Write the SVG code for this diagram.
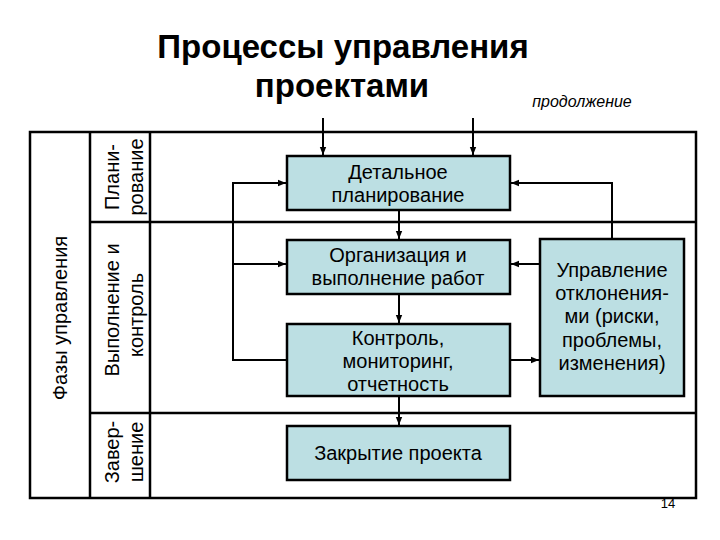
<svg xmlns="http://www.w3.org/2000/svg" width="720" height="540" viewBox="0 0 720 540">
<defs>
<style>
.t{font-family:"Liberation Sans",Arial,sans-serif;fill:#000}
.title{font-size:33px;font-weight:bold;text-anchor:middle}
.box{fill:#bcdfe3;stroke:#000;stroke-width:2.5}
.bt{font-size:20px;text-anchor:middle}
.lab{font-size:20px;text-anchor:middle}
.frame{fill:none;stroke:#000;stroke-width:2.5}
.c{fill:none;stroke:#000;stroke-width:2}
</style>
<marker id="ah" viewBox="0 0 10 10" refX="10" refY="5" markerWidth="4" markerHeight="4" orient="auto" markerUnits="strokeWidth">
<path d="M0,1 L10,5 L0,9 z" fill="#000"/>
</marker>
</defs>
<rect width="720" height="540" fill="#fff"/>
<g id="title">
<text class="t title" x="343" y="58">Процессы управления</text>
<text class="t title" x="342" y="97">проектами</text>
<text class="t" x="582" y="107" font-size="16" font-style="italic" text-anchor="middle">продолжение</text>
</g>
<g id="frame">
<rect class="frame" x="30" y="132" width="666" height="366"/>
<line class="frame" x1="90" y1="132" x2="90" y2="498"/>
<line class="frame" x1="150" y1="132" x2="150" y2="498"/>
<line class="frame" x1="90" y1="222" x2="696" y2="222"/>
<line class="frame" x1="90" y1="413" x2="696" y2="413"/>
</g>
<g id="phase-labels">
<text class="t lab" transform="translate(67,318) rotate(-90)">Фазы управления</text>
<text class="t lab" transform="translate(119,177) rotate(-90)">Плани-</text>
<text class="t lab" transform="translate(143,177) rotate(-90)">рование</text>
<text class="t lab" transform="translate(119,310) rotate(-90)">Выполнение и</text>
<text class="t lab" transform="translate(143,315) rotate(-90)">контроль</text>
<text class="t lab" transform="translate(119,452) rotate(-90)">Завер-</text>
<text class="t lab" transform="translate(143,452) rotate(-90)">шение</text>
</g>
<g id="connectors">
<line class="c" x1="323" y1="118" x2="323" y2="155" marker-end="url(#ah)"/>
<line class="c" x1="473" y1="118" x2="473" y2="155" marker-end="url(#ah)"/>
<line class="c" x1="399" y1="211" x2="399" y2="239" marker-end="url(#ah)"/>
<line class="c" x1="399" y1="295" x2="399" y2="323" marker-end="url(#ah)"/>
<line class="c" x1="399" y1="397" x2="399" y2="425" marker-end="url(#ah)"/>
<polyline class="c" points="286,360 233,360 233,183 286,183" marker-end="url(#ah)"/>
<line class="c" x1="233" y1="264" x2="286" y2="264" marker-end="url(#ah)"/>
<polyline class="c" points="612,239 612,183 511,183" marker-end="url(#ah)"/>
<line class="c" x1="540" y1="264" x2="511" y2="264" marker-end="url(#ah)"/>
<line class="c" x1="511" y1="360" x2="539" y2="360" marker-end="url(#ah)"/>
</g>
<g id="n-detail">
<rect class="box" x="287" y="156" width="223" height="54"/>
<text class="t bt" x="398" y="179">Детальное</text>
<text class="t bt" x="398" y="202">планирование</text>
</g>
<g id="n-org">
<rect class="box" x="287" y="240" width="223" height="54"/>
<text class="t bt" x="398" y="262">Организация и</text>
<text class="t bt" x="398" y="285">выполнение работ</text>
</g>
<g id="n-control">
<rect class="box" x="287" y="324" width="223" height="72"/>
<text class="t bt" x="398" y="345">Контроль,</text>
<text class="t bt" x="398" y="368">мониторинг,</text>
<text class="t bt" x="398" y="391">отчетность</text>
</g>
<g id="n-close">
<rect class="box" x="287" y="426" width="223" height="54"/>
<text class="t bt" x="398" y="460">Закрытие проекта</text>
</g>
<g id="n-deviation">
<rect class="box" x="540" y="239" width="144" height="157"/>
<text class="t bt" x="612" y="277">Управление</text>
<text class="t bt" x="612" y="300">отклонения-</text>
<text class="t bt" x="612" y="323">ми (риски,</text>
<text class="t bt" x="612" y="347">проблемы,</text>
<text class="t bt" x="612" y="370">изменения)</text>
</g>
<text class="t" x="668" y="508" font-size="13" text-anchor="middle">14</text>
</svg>
